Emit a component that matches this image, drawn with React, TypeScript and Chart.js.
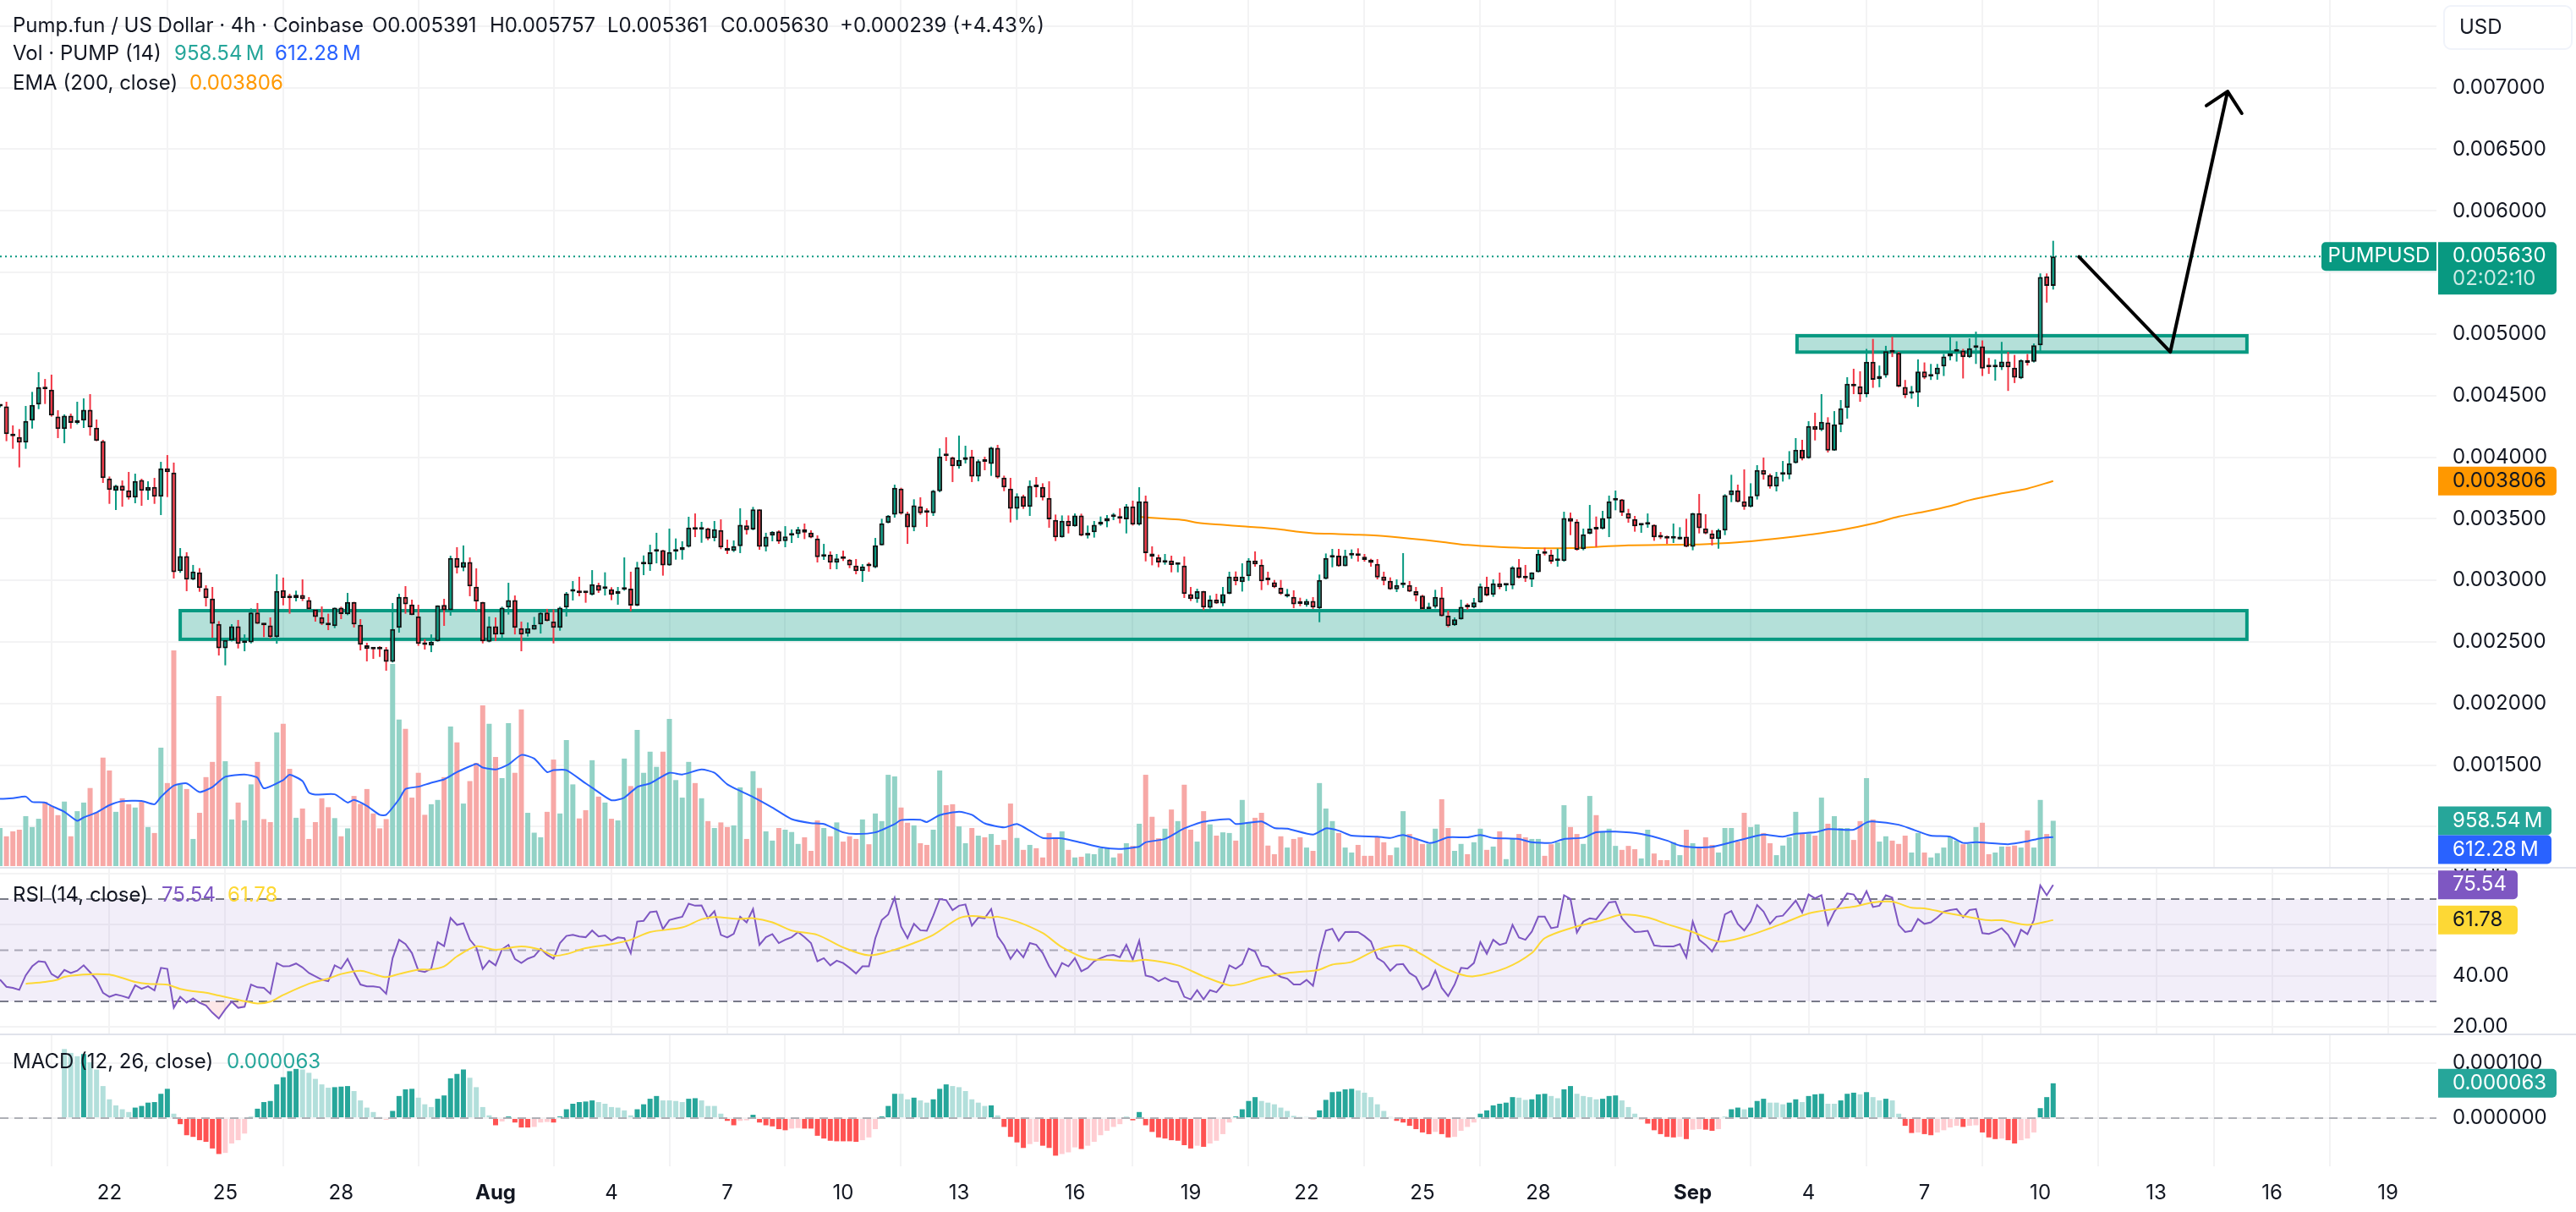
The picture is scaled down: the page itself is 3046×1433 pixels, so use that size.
import { useEffect, useRef } from "react"
import { Chart, registerables } from "chart.js"

Chart.register(...registerables)

// Prices are in millionths of a dollar, volumes in millions, one entry per 4h bar.
const opens = [
  4413,4413,4187,4164,4118,4297,4427,4569,4548,4329,
  4228,4336,4278,4297,4384,4239,4130,3827,3727,3768,
  3731,3672,3814,3727,3759,3679,3910,3875,3074,3196,
  3006,3065,2935,2852,2646,2449,2511,2626,2491,2497,
  2738,2653,2633,2539,2921,2864,2855,2880,2839,2763,
  2701,2655,2628,2777,2724,2825,2639,2472,2447,2449,
  2440,2339,2614,2866,2804,2708,2484,2470,2504,2800,
  2758,3182,3102,3148,2948,2825,2502,2626,2561,2779,
  2839,2612,2566,2600,2642,2738,2667,2614,2779,2909,
  2907,2903,2882,2962,2930,2928,2889,2923,2932,2795,
  3129,3129,3232,3244,3122,3232,3244,3273,3429,3411,
  3422,3342,3408,3264,3239,3278,3445,3413,3576,3273,
  3363,3397,3319,3363,3376,3415,3388,3340,3191,3209,
  3143,3184,3168,3120,3074,3122,3106,3285,3466,3534,
  3745,3541,3431,3601,3555,3546,3724,4015,3999,3926,
  3978,4006,3843,3967,3946,4075,3834,3745,3582,3683,
  3596,3773,3759,3669,3491,3349,3484,3438,3527,3363,
  3390,3452,3479,3514,3514,3495,3601,3452,3642,3218,
  3189,3143,3161,3127,3120,2887,2848,2914,2777,2843,
  2813,2891,3031,2985,3033,3161,3127,3006,2983,2939,
  2868,2866,2816,2800,2832,2772,3012,3184,3200,3115,
  3202,3205,3191,3168,3134,3031,2996,2928,2962,2962,
  2912,2875,2765,2784,2861,2713,2635,2683,2790,2779,
  2820,2948,2882,2976,2958,2958,3106,3026,3006,3067,
  3225,3209,3157,3157,3505,3477,3253,3379,3429,3418,
  3500,3649,3656,3546,3498,3445,3452,3450,3354,3347,
  3340,3333,3354,3273,3546,3422,3381,3335,3404,3692,
  3731,3642,3596,3683,3896,3855,3761,3857,3857,3953,
  4061,3992,4253,4221,4281,4054,4265,4400,4596,4576,
  4512,4774,4634,4664,4860,4847,4570,4516,4524,4695,
  4654,4673,4737,4818,4857,4865,4813,4887,4899,4737,
  4730,4730,4776,4727,4641,4789,4774,4909,5468,5391,
]
const highs = [
  4427,4450,4258,4228,4416,4530,4690,4635,4670,4381,
  4347,4354,4450,4477,4512,4306,4141,3843,3775,3811,
  3880,3866,3825,3804,3832,3962,4017,3956,3262,3228,
  3125,3099,2960,2946,2669,2523,2644,2678,2561,2772,
  2816,2653,2699,3049,3022,2891,2916,3008,2864,2765,
  2788,2729,2779,2786,2898,2825,2685,2493,2447,2465,
  2458,2816,2891,2953,2843,2802,2523,2561,2797,2850,
  3200,3269,3283,3186,3097,2825,2706,2699,2786,2980,
  2877,2665,2658,2703,2756,2768,2763,2786,2905,2994,
  3029,2905,3083,2980,3065,2944,2946,3186,3070,3150,
  3202,3289,3386,3248,3420,3340,3317,3516,3543,3475,
  3427,3482,3495,3331,3324,3585,3489,3596,3576,3386,
  3399,3406,3440,3413,3434,3461,3406,3365,3296,3235,
  3214,3241,3173,3173,3131,3145,3344,3500,3530,3777,
  3752,3557,3658,3674,3585,3734,4072,4162,4004,4175,
  4093,4059,3981,4004,4084,4100,3850,3832,3706,3695,
  3811,3839,3788,3804,3534,3527,3527,3543,3541,3445,
  3482,3518,3530,3546,3585,3619,3647,3756,3688,3276,
  3209,3214,3200,3145,3193,2946,2932,2914,2877,2891,
  2946,3070,3072,3138,3180,3235,3170,3070,3003,3003,
  2930,2919,2859,2848,2864,3047,3218,3255,3255,3248,
  3251,3260,3214,3175,3173,3070,3024,3008,3221,2994,
  2946,2882,2818,2923,2946,2754,2699,2843,2813,2857,
  2974,3029,3008,3063,2969,3115,3173,3125,3065,3248,
  3264,3248,3257,3557,3550,3495,3420,3612,3518,3564,
  3688,3729,3660,3580,3523,3454,3543,3454,3392,3363,
  3461,3431,3500,3548,3701,3537,3408,3418,3699,3857,
  3777,3901,3788,3935,3997,3866,3880,3969,4049,4155,
  4141,4292,4361,4512,4324,4374,4464,4649,4718,4697,
  4879,4960,4744,4904,4977,4855,4627,4578,4794,4769,
  4757,4757,4838,4977,4941,4879,4965,5019,4948,4806,
  4794,4936,4855,4830,4794,4838,4923,5492,5492,5757,
]
const lows = [
  4404,4130,4068,3917,4068,4232,4390,4432,4329,4155,
  4113,4232,4267,4237,4175,4130,3791,3621,3571,3598,
  3656,3626,3605,3653,3621,3530,3676,3015,3061,2912,
  3001,2907,2788,2534,2390,2310,2504,2447,2424,2488,
  2646,2539,2527,2486,2797,2729,2829,2832,2763,2665,
  2637,2596,2612,2685,2717,2617,2431,2342,2362,2378,
  2266,2333,2575,2729,2717,2468,2438,2417,2502,2630,
  2713,3056,3074,2871,2756,2488,2497,2507,2534,2722,
  2561,2424,2543,2600,2568,2667,2488,2591,2706,2836,
  2871,2818,2877,2898,2877,2839,2802,2916,2749,2790,
  3042,3077,3138,3038,3118,3168,3168,3267,3351,3305,
  3326,3317,3253,3214,3230,3221,3372,3406,3248,3235,
  3317,3296,3269,3303,3344,3335,3342,3145,3166,3090,
  3090,3157,3099,3049,2987,3070,3099,3283,3463,3509,
  3534,3296,3399,3532,3434,3523,3715,3969,3798,3907,
  3949,3798,3804,3894,3848,3827,3724,3470,3491,3580,
  3523,3674,3649,3427,3319,3347,3381,3436,3358,3340,
  3347,3443,3431,3489,3463,3381,3445,3445,3154,3122,
  3106,3127,3065,3065,2857,2832,2818,2758,2770,2809,
  2790,2887,2960,2909,2996,3111,2921,2962,2937,2882,
  2861,2774,2790,2786,2768,2660,3008,3106,3111,3115,
  3175,3152,3152,3111,3008,2960,2923,2905,2939,2905,
  2829,2761,2763,2772,2706,2619,2630,2681,2763,2774,
  2818,2871,2866,2928,2912,2928,3015,2987,2946,3065,
  3202,3134,3111,3152,3367,3241,3244,3374,3271,3413,
  3351,3569,3523,3468,3395,3386,3427,3321,3335,3296,
  3303,3331,3269,3244,3381,3374,3283,3257,3367,3635,
  3633,3573,3592,3656,3818,3745,3722,3802,3821,3949,
  3974,3988,4136,4212,4038,4052,4203,4313,4512,4450,
  4487,4563,4568,4646,4813,4568,4480,4475,4408,4634,
  4627,4629,4659,4786,4776,4639,4806,4757,4659,4676,
  4622,4708,4538,4602,4634,4744,4769,4862,5255,5361,
]
const closes = [
  4420,4187,4171,4118,4294,4425,4569,4551,4338,4228,
  4336,4278,4301,4384,4242,4132,3830,3734,3768,3727,
  3672,3807,3727,3759,3679,3910,3878,3067,3196,3006,
  3072,2937,2855,2648,2449,2516,2626,2484,2500,2738,
  2648,2635,2539,2914,2857,2855,2882,2848,2765,2703,
  2648,2635,2777,2726,2825,2642,2477,2443,2440,2440,
  2339,2605,2866,2806,2717,2484,2475,2502,2797,2758,
  3182,3102,3148,2951,2827,2504,2626,2559,2777,2839,
  2614,2559,2612,2639,2736,2669,2614,2777,2893,2916,
  2896,2896,2969,2916,2937,2882,2914,2930,2795,3106,
  3136,3228,3244,3122,3230,3244,3271,3429,3411,3424,
  3340,3415,3267,3239,3278,3450,3408,3576,3273,3354,
  3395,3315,3356,3376,3415,3388,3347,3189,3212,3143,
  3177,3175,3122,3074,3113,3115,3285,3463,3525,3752,
  3541,3431,3608,3546,3548,3727,4006,4008,3926,3978,
  4001,3843,3967,3962,4077,3836,3754,3582,3683,3596,
  3766,3756,3672,3495,3349,3484,3438,3527,3363,3388,
  3450,3477,3505,3521,3500,3601,3452,3642,3221,3191,
  3145,3161,3125,3129,2889,2848,2912,2779,2843,2813,
  2887,3031,2992,3031,3161,3129,2992,3001,2944,2891,
  2887,2806,2809,2832,2779,3003,3182,3202,3115,3198,
  3212,3198,3166,3141,3024,2996,2928,2962,2971,2909,
  2877,2768,2786,2866,2710,2628,2683,2784,2781,2820,
  2951,2877,2976,2944,2967,3106,3022,3017,3065,3216,
  3216,3152,3164,3505,3477,3248,3374,3420,3413,3505,
  3642,3658,3550,3500,3438,3452,3461,3349,3347,3340,
  3347,3354,3273,3546,3424,3381,3335,3408,3692,3731,
  3637,3596,3683,3896,3857,3761,3843,3864,3951,4061,
  3988,4253,4221,4287,4054,4267,4397,4596,4576,4510,
  4774,4629,4659,4860,4850,4573,4504,4524,4695,4646,
  4666,4727,4818,4843,4867,4813,4884,4899,4720,4730,
  4737,4776,4730,4646,4789,4764,4909,5463,5390,5630,
]
const volumes = [
  805,630,735,770,1057,826,1001,1358,1274,1078,
  1365,630,1162,1344,1652,1134,2296,2023,1148,1435,
  1309,1239,1358,826,700,2506,1757,4565,1729,1631,
  574,1127,1883,2205,3598,2219,987,1344,966,1729,
  2205,994,931,2828,3010,2058,1022,1218,574,931,
  1435,1246,1015,630,798,1484,1316,1631,1113,798,
  994,4280,3101,2905,1449,1974,1085,1309,1400,1883,
  2954,2618,1323,1799,2184,3402,3010,2310,1862,3024,
  1974,3318,1127,707,609,1148,2254,1113,2667,1729,
  1008,1183,2240,1470,1344,1001,966,2275,1694,2884,
  1974,2422,2100,2422,3115,1820,1449,2205,1757,1435,
  952,805,924,826,861,1666,574,2009,1652,735,
  539,805,770,721,469,609,322,966,805,630,
  924,518,630,574,987,462,1113,952,1932,1897,
  1239,917,861,483,448,770,2023,1288,1309,840,
  483,805,644,609,679,448,553,1323,595,343,
  448,378,182,700,574,735,343,182,196,266,
  252,378,378,182,266,483,427,896,1932,1043,
  588,791,1197,952,1722,770,518,1162,882,644,
  714,700,539,1400,917,1022,1127,434,252,630,
  392,574,609,392,322,1757,1218,952,700,392,
  287,448,217,217,623,504,231,392,1162,679,
  574,469,469,791,1414,805,322,469,252,504,
  791,343,413,735,147,574,679,609,574,574,
  217,462,504,1288,826,679,469,1484,1078,735,
  791,427,343,427,357,161,770,266,126,126,
  504,231,770,483,378,609,448,287,805,805,
  518,1127,826,882,700,483,231,434,609,1148,
  679,679,644,1449,896,1057,805,805,553,952,
  1862,987,518,630,539,469,644,287,700,287,
  182,273,392,609,539,462,469,826,917,252,
  287,413,413,434,392,756,392,1400,679,958.54,
]
const rsi = [
  38.5,35.7,35.3,34.5,40.2,43.7,45.7,45.4,40.7,39.2,
  42.3,41.1,42.0,44.1,41.4,38.5,33.4,31.8,32.7,32.1,
  31.3,36.3,34.9,35.9,34.3,43.1,42.7,27.5,31.8,29.5,
  31.2,29.5,28.4,25.6,23.3,26.9,29.9,27.5,27.9,36.6,
  35.5,35.3,33.0,45.0,43.7,43.8,44.8,43.3,41.1,39.8,
  38.5,37.9,44.1,42.8,46.6,41.4,36.6,35.9,35.9,35.5,
  33.0,46.9,54.1,52.4,48.9,42.0,41.5,42.8,53.2,51.6,
  62.6,59.9,60.5,54.1,51.1,42.7,45.9,44.1,50.4,52.1,
  46.6,45.0,46.7,47.6,50.6,48.2,46.7,52.8,55.6,56.0,
  55.4,55.1,57.7,55.4,55.8,53.8,55.0,54.7,48.9,61.2,
  61.5,64.9,65.2,58.2,61.8,62.5,63.1,68.2,67.4,67.5,
  62.5,65.3,56.0,55.0,56.4,63.1,60.9,66.1,52.1,55.1,
  56.3,52.8,54.1,55.1,57.1,55.1,52.8,45.7,46.9,44.1,
  45.9,45.0,43.1,40.9,43.7,43.7,54.7,61.8,64.0,70.5,
  59.3,54.7,60.3,57.8,57.6,63.5,70.0,69.6,65.7,67.4,
  67.9,59.6,62.8,62.5,66.1,55.4,51.9,46.6,50.2,47.2,
  52.8,52.1,48.9,43.7,39.8,45.0,43.7,46.9,41.8,43.1,
  45.7,46.9,47.9,48.2,47.3,52.1,46.3,53.7,40.1,39.5,
  37.9,39.2,37.9,37.6,31.8,30.8,34.4,30.8,34.4,33.6,
  36.6,44.1,42.8,44.6,50.6,49.5,44.0,43.5,41.1,39.6,
  38.9,36.6,36.6,38.4,36.1,48.2,57.7,58.4,53.7,57.1,
  57.2,57.1,55.5,53.4,46.9,45.3,42.0,44.4,44.6,41.1,
  39.5,34.7,36.3,42.0,35.3,32.1,36.6,43.1,42.8,45.0,
  53.2,48.6,54.1,52.1,52.8,59.9,55.0,54.1,57.3,63.1,
  63.1,58.6,59.1,71.5,70.0,56.9,61.2,62.5,62.1,65.3,
  68.7,69.0,62.5,59.6,57.1,57.3,57.6,51.9,51.6,51.5,
  51.5,52.4,47.2,61.2,54.1,52.1,49.5,54.1,64.0,65.3,
  60.3,57.7,61.2,67.7,65.1,60.3,63.1,63.5,66.4,69.4,
  64.8,71.8,70.3,71.5,59.9,65.1,68.3,72.2,71.8,68.1,
  73.1,66.9,67.4,71.5,70.6,59.9,57.1,57.6,62.2,60.3,
  60.9,62.8,65.1,65.7,66.1,62.9,65.7,66.1,56.7,56.4,
  57.3,58.6,56.0,51.5,58.0,56.3,61.8,75.3,71.5,75.54,
]
const macdHist = [
  null,null,null,null,null,null,null,null,null,null,
  125,118,112,116,101,88,58,34,23,16,
  11,19,22,28,29,44,53,8,-11,-31,
  -34,-40,-43,-55,-65,-63,-46,-40,-28,2,
  17,29,31,61,74,85,89,88,82,71,
  61,55,56,57,58,49,32,19,11,2,
  -2,13,40,52,53,37,25,20,35,41,
  72,80,88,73,56,20,5,-13,-6,3,
  -8,-17,-17,-16,-8,-7,-8,3,16,26,
  29,30,32,29,26,20,19,14,5,16,
  25,35,40,32,32,31,29,35,36,32,
  22,22,8,-5,-13,-5,-4,6,-8,-13,
  -15,-20,-22,-19,-18,-19,-19,-32,-37,-41,
  -42,-42,-42,-43,-40,-35,-20,3,22,44,
  44,34,37,32,28,34,53,61,58,56,
  49,34,28,22,23,5,-16,-34,-44,-54,
  -47,-43,-50,-54,-68,-65,-62,-53,-56,-50,
  -43,-31,-23,-16,-11,2,-4,11,-13,-25,
  -35,-37,-40,-41,-49,-55,-50,-52,-46,-41,
  -29,-8,3,16,31,38,31,28,25,19,
  13,4,2,2,-2,14,33,47,48,52,
  53,50,46,38,25,13,2,-5,-8,-14,
  -20,-26,-29,-25,-29,-35,-34,-23,-16,-8,
  8,14,23,26,28,38,37,33,34,43,
  44,40,36,52,58,44,40,38,34,35,
  40,41,32,20,8,-2,-10,-22,-29,-34,
  -35,-34,-38,-21,-20,-21,-23,-20,2,16,
  19,16,19,31,35,28,28,25,28,34,
  29,40,43,44,26,26,32,44,46,43,
  47,38,32,35,32,8,-14,-27,-26,-29,
  -31,-26,-22,-17,-14,-16,-14,-13,-26,-35,
  -38,-37,-40,-46,-40,-37,-26,18,38,63,
]

// smooth overlays, read at the bars where they bend
const emaBars = [177,178,181,184,186,190,193,196,199,202,204,208,210,214,219,224,228,233,238,244,248,253,258,264,267,272,277,281,286,291,295,299,303,306,311,315,319]
const ema = [3516,3511,3500,3489,3468,3450,3438,3429,3413,3392,3383,3376,3372,3363,3340,3312,3287,3271,3262,3262,3271,3285,3287,3292,3299,3317,3344,3370,3408,3461,3518,3557,3603,3651,3706,3745,3806]
const volMaBars = [
  0,2,4,5,7,8,10,12,13,15,17,19,22,24,25,27,29,31,33,35,38,40,41,44,45,47,48,49,52,54,55,57,59,60,62,63,65,67,69,71,74,75,77,79,81,83,85,86,88,91,92,95,97,99,101,104,106,109,111,113,115,117,120,123,126,128,131,
  133,136,139,140,143,144,146,149,151,153,156,158,160,162,165,168,171,174,177,178,181,184,187,191,192,196,198,200,204,206,208,210,214,216,218,222,223,225,228,230,232,236,238,241,243,246,248,251,255,259,261,263,
  266,269,272,274,277,279,282,284,288,290,291,295,297,300,303,305,307,312,315,317,319,
]
const volMa = [
  1421,1435,1470,1358,1344,1274,1148,959,1029,1134,1288,1372,1379,1309,1463,1701,1750,1568,1673,1890,1939,1869,1645,1820,1932,1799,1554,1512,1519,1344,1400,1274,1085,1085,1414,1631,1680,1764,1834,1988,2163,2086,2044,2149,2352,2275,1988,2030,2030,1750,1659,1393,1449,1673,1750,1974,1939,2044,1974,1729,1589,1463,1239,994,910,889,714,
  679,714,889,973,980,931,1078,1148,1085,903,819,889,749,595,588,497,399,364,413,504,574,798,938,994,889,945,805,791,665,798,749,644,623,595,658,490,511,609,609,658,595,574,504,490,574,602,714,728,679,539,434,399,
  406,504,609,665,623,686,714,784,770,924,945,875,784,644,623,490,504,462,525,588,612.28,
]
const rsiMaBars = [
  4,7,9,10,13,15,17,19,21,23,26,28,30,32,34,36,38,40,42,44,48,51,53,56,58,60,62,65,67,69,71,74,77,81,84,86,88,91,95,98,101,106,109,111,115,117,120,123,127,131,
  135,139,142,145,149,151,154,155,158,162,165,169,172,176,178,183,187,191,193,196,200,204,205,207,210,214,218,221,224,227,229,234,238,240,244,249,252,256,259,263,
  267,271,275,277,281,285,288,291,294,297,299,302,305,309,311,315,319,
]
const rsiMa = [
  36.9,37.6,38.5,39.6,40.5,40.7,40.5,39.2,37.6,36.9,36.5,34.9,34.0,33.4,32.3,31.2,30.1,29.2,29.9,32.5,36.9,38.9,40.7,42.0,40.7,39.5,40.7,42.4,42.5,43.7,47.6,51.5,50.2,51.5,50.2,47.9,48.5,50.8,52.4,54.1,57.1,58.9,62.1,63.0,62.2,62.5,60.9,57.7,56.0,51.1,
  48.0,50.2,52.8,56.0,62.5,63.4,62.8,63.1,61.2,56.7,51.2,46.6,46.3,45.7,46.3,44.1,39.8,36.3,36.9,39.2,41.1,42.0,42.4,44.4,45.4,50.2,51.8,48.2,43.7,40.5,39.8,43.1,48.9,54.7,58.6,61.8,63.9,62.8,60.2,57.1,
  53.4,55.2,58.6,60.5,64.4,66.1,67.0,68.7,69.0,66.6,66.4,64.8,63.4,61.7,61.7,59.9,61.78,
]

// tick labels along the shared time axis (bar index -> label)
const timeTickBars = [17,35,53,77,95,113,131,149,167,185,203,221,239,263,281,299,317,335,353,371]
const timeTickLabels = ["22","25","28","Aug","4","7","10","13","16","19","22","25","28","Sep","4","7","10","13","16","19"]
const monthTicks = ["Aug","Sep"]
const priceTicks = [1000,1500,2000,2500,3000,3500,4000,4500,5000,5500,6000,6500,7000,7500]
const rsiTicks = [20,40,60,80]
const macdTicks = [0,100]

// drawn levels and zones
const zoneStartBars = [28,279.2]
const zoneEndBars = [349.1,349.1]
const zoneTops = [2754,4986]
const zoneBottoms = [2521,4853]
const arrowBars = [323,337.2,346.1,342.8,346.1,348.3]
const arrowPrices = [5627,4855,6970,6854,6970,6792]
const lastPrice = 5630
const lastPriceEndBar = 360.7
const rsiBandTop = 70
const rsiBandMid = 50
const rsiBandBottom = 30

const FONT = "Inter"
const TEXT = "#131722"
const GRID = "#f3f3f4"
const UP = "#089981"
const DOWN = "#f23645"
const XMIN = 0
const XMAX = 378.55
const AXIS_W = 165

const up = (i: number) => closes[i] >= opens[i]

function pts(xs: number[], ys: (number | null)[]) {
  return xs.map((x, i) => ({ x, y: ys[i] }))
}
const barIdx = opens.map((_, i) => i)

function levelLine(y: number, color: string, width: number, dash: number[], order: number, extra = {}) {
  return {
    type: "line",
    data: [{ x: XMIN, y }, { x: XMAX, y }],
    borderColor: color,
    borderWidth: width,
    borderDash: dash,
    pointRadius: 0,
    order,
    ...extra,
  }
}

function text(ctx: CanvasRenderingContext2D, s: string, x: number, y: number, color: string, align: CanvasTextAlign = "left") {
  ctx.font = `24px ${FONT}`
  ctx.textAlign = align
  ctx.textBaseline = "middle"
  ctx.fillStyle = color
  ctx.fillText(s, x, y)
}

function tag(ctx: CanvasRenderingContext2D, x: number, y: number, w: number, h: number, fill: string) {
  ctx.fillStyle = fill
  ctx.beginPath()
  ctx.roundRect(x, y, w, h, [0, 5, 5, 0])
  ctx.fill()
}

// keep the plot area from being inset for half a tick label
function noPadding(s: any) {
  s.paddingTop = 0
  s.paddingBottom = 0
  s.paddingLeft = 0
  s.paddingRight = 0
}

function xAxis(showLabels: boolean, height: number) {
  return {
    type: "linear",
    min: XMIN,
    max: XMAX,
    offset: false,
    bounds: "data",
    border: { display: false },
    grid: { color: GRID, lineWidth: 2, drawTicks: false },
    ticks: {
      display: showLabels,
      autoSkip: false,
      maxRotation: 0,
      padding: 17,
      color: TEXT,
      font: (c: any) => ({
        family: FONT,
        size: 24,
        weight: monthTicks.includes(timeTickLabels[timeTickBars.indexOf(c.tick?.value)]) ? "bold" : "normal",
      }),
      callback: (v: number) => timeTickLabels[timeTickBars.indexOf(v)],
    },
    afterBuildTicks: (s: any) => {
      s.ticks = timeTickBars.map((value) => ({ value }))
    },
    afterFit: (s: any) => {
      s.height = height
      noPadding(s)
    },
  }
}

function yAxis(min: number, max: number, ticks: number[], label: (v: number) => string) {
  return {
    position: "right",
    min,
    max,
    border: { display: false },
    grid: { color: GRID, lineWidth: 2, drawTicks: false },
    ticks: {
      autoSkip: false,
      padding: 19,
      color: TEXT,
      font: { family: FONT, size: 24 },
      callback: (v: number) => label(v),
    },
    afterBuildTicks: (s: any) => {
      s.ticks = ticks.map((value) => ({ value }))
    },
    afterFit: (s: any) => {
      s.width = AXIS_W
      noPadding(s)
    },
  }
}

const baseOptions = {
  responsive: false,
  animation: false,
  events: [],
  layout: { padding: 0 },
  plugins: { legend: { display: false }, tooltip: { enabled: false } },
}

const zonesPlugin = {
  id: "zones",
  beforeDatasetsDraw(chart: any) {
    const { ctx, scales } = chart
    ctx.save()
    zoneTops.forEach((top, i) => {
      const x0 = scales.x.getPixelForValue(zoneStartBars[i])
      const x1 = scales.x.getPixelForValue(zoneEndBars[i])
      const y0 = scales.y.getPixelForValue(top)
      const y1 = scales.y.getPixelForValue(zoneBottoms[i])
      ctx.fillStyle = "rgba(8,153,129,0.3)"
      ctx.fillRect(x0, y0, x1 - x0, y1 - y0)
      ctx.strokeStyle = UP
      ctx.lineWidth = 4
      ctx.strokeRect(x0, y0, x1 - x0, y1 - y0)
    })
    ctx.restore()
  },
}

const priceOverlay = {
  id: "priceOverlay",
  afterDraw(chart: any) {
    const { ctx, scales } = chart
    ctx.save()
    text(ctx, "Pump.fun / US Dollar · 4h · Coinbase", 15, 31, TEXT)
    text(ctx, "O0.005391", 440, 31, TEXT)
    text(ctx, "H0.005757", 579, 31, TEXT)
    text(ctx, "L0.005361", 718, 31, TEXT)
    text(ctx, "C0.005630", 852, 31, TEXT)
    text(ctx, "+0.000239 (+4.43%)", 993, 31, TEXT)
    text(ctx, "Vol · PUMP (14)", 15, 64, TEXT)
    text(ctx, "958.54\u202fM", 206, 64, "#26a69a")
    text(ctx, "612.28\u202fM", 325, 64, "#2962ff")
    text(ctx, "EMA (200, close)", 15, 99, TEXT)
    text(ctx, "0.003806", 224, 99, "#ff9800")

    // currency box
    ctx.fillStyle = "#fff"
    ctx.strokeStyle = "#f0f3fa"
    ctx.lineWidth = 2
    ctx.beginPath()
    ctx.roundRect(2890, 7, 151, 51, 8)
    ctx.fill()
    ctx.stroke()
    text(ctx, "USD", 2908, 33, TEXT)

    // last price tags
    const py = scales.y.getPixelForValue(lastPrice)
    ctx.fillStyle = UP
    ctx.beginPath()
    ctx.roundRect(2745, py - 17, 136, 34, [5, 0, 0, 5])
    ctx.fill()
    text(ctx, "PUMPUSD", 2813, py, "#fff", "center")
    tag(ctx, 2883, py - 17, 140, 62, UP)
    text(ctx, "0.005630", 2900, py, "#fff")
    text(ctx, "02:02:10", 2900, py + 27, "rgba(255,255,255,0.8)")

    const ey = scales.y.getPixelForValue(ema[ema.length - 1])
    tag(ctx, 2883, ey - 17, 140, 34, "#ff9800")
    text(ctx, "0.003806", 2900, ey, TEXT)

    const vy = scales.yVol.getPixelForValue(volumes[volumes.length - 1])
    tag(ctx, 2883, vy - 17, 134, 34, "#26a69a")
    text(ctx, "958.54\u202fM", 2900, vy, "#fff")
    tag(ctx, 2883, vy + 17, 134, 34, "#2962ff")
    text(ctx, "612.28\u202fM", 2900, vy + 34, "#fff")
    ctx.restore()
  },
}

const rsiOverlay = {
  id: "rsiOverlay",
  afterDraw(chart: any) {
    const { ctx, scales } = chart
    ctx.save()
    text(ctx, "RSI (14, close)", 15, 32, TEXT)
    text(ctx, "75.54", 191, 32, "#7e57c2")
    text(ctx, "61.78", 269, 32, "#fdd835")
    const a = scales.y.getPixelForValue(rsi[rsi.length - 1])
    tag(ctx, 2883, a - 17, 94, 34, "#7e57c2")
    text(ctx, "75.54", 2900, a, "#fff")
    const b = scales.y.getPixelForValue(rsiMa[rsiMa.length - 1])
    tag(ctx, 2883, b - 17, 94, 34, "#fdd835")
    text(ctx, "61.78", 2900, b, TEXT)
    ctx.restore()
  },
}

const macdOverlay = {
  id: "macdOverlay",
  afterDraw(chart: any) {
    const { ctx, scales } = chart
    ctx.save()
    text(ctx, "MACD (12, 26, close)", 15, 32, TEXT)
    text(ctx, "0.000063", 268, 32, "#26a69a")
    const y = scales.y.getPixelForValue(macdHist[macdHist.length - 1] as number)
    tag(ctx, 2883, y - 17, 140, 34, "#26a69a")
    text(ctx, "0.000063", 2900, y, "#fff")
    ctx.restore()
  },
}

function macdColor(i: number) {
  const h = macdHist[i] as number
  const prev = macdHist[i - 1]
  const rising = prev != null && prev < h
  if (h >= 0) return rising ? "#26a69a" : "#b2dfdb"
  return rising ? "#ffcdd2" : "#ff5252"
}

export default function App() {
  const priceRef = useRef<HTMLCanvasElement>(null)
  const rsiRef = useRef<HTMLCanvasElement>(null)
  const macdRef = useRef<HTMLCanvasElement>(null)

  useEffect(() => {
    document.body.style.margin = "0"
    document.body.style.background = "#fff"
    if (!priceRef.current || !rsiRef.current || !macdRef.current) return

    const priceChart = new Chart(priceRef.current, {
      type: "bar",
      data: {
        datasets: [
          {
            type: "line",
            data: pts(arrowBars, arrowPrices),
            borderColor: "#000",
            borderWidth: 4,
            borderCapStyle: "round",
            borderJoinStyle: "round",
            pointRadius: 0,
            order: 0,
          },
          {
            label: "bodies",
            data: barIdx.map((x) => ({ x, y: [opens[x], closes[x]] })),
            backgroundColor: barIdx.map((i) => (up(i) ? UP : DOWN)),
            borderColor: "#111",
            borderWidth: 2,
            borderSkipped: false,
            barThickness: 6,
            minBarLength: 3,
            inflateAmount: 0,
            grouped: false,
            order: 1,
          },
          {
            label: "wicks",
            data: barIdx.map((x) => ({ x, y: [lows[x], highs[x]] })),
            backgroundColor: barIdx.map((i) => (up(i) ? UP : DOWN)),
            borderWidth: 0,
            barThickness: 2,
            inflateAmount: 0,
            grouped: false,
            order: 2,
          },
          {
            type: "line",
            data: pts(emaBars, ema),
            borderColor: "#ff9800",
            borderWidth: 2,
            pointRadius: 0,
            tension: 0.3,
            order: 3,
          },
          levelLine(lastPrice, UP, 2, [2, 4], 4, { data: [{ x: XMIN, y: lastPrice }, { x: lastPriceEndBar, y: lastPrice }] }),
          {
            type: "line",
            yAxisID: "yVol",
            data: pts(volMaBars, volMa),
            borderColor: "#2962ff",
            borderWidth: 2,
            pointRadius: 0,
            tension: 0.2,
            order: 5,
          },
          {
            label: "volume",
            yAxisID: "yVol",
            data: barIdx.map((x) => ({ x, y: volumes[x] })),
            backgroundColor: barIdx.map((i) => (up(i) ? "#92d2c6" : "#f7a8a6")),
            borderWidth: 0,
            barThickness: 6,
            inflateAmount: 0,
            grouped: false,
            order: 6,
          },
        ],
      } as any,
      options: {
        ...baseOptions,
        scales: {
          x: xAxis(false, 0),
          y: yAxis(673, 7712, priceTicks, (v) => (v / 1e6).toFixed(6)),
          yVol: { display: false, position: "left", min: -18, max: 18330 },
        },
      } as any,
      plugins: [zonesPlugin, priceOverlay],
    })

    const rsiChart = new Chart(rsiRef.current, {
      type: "line",
      data: {
        datasets: [
          {
            data: pts(barIdx, rsi),
            borderColor: "#7e57c2",
            borderWidth: 2,
            pointRadius: 0,
            fill: { target: { value: rsiBandBottom }, above: "transparent", below: "rgba(242,54,69,0.12)" },
            order: 1,
          },
          {
            data: pts(rsiMaBars, rsiMa),
            borderColor: "#fdd835",
            borderWidth: 2,
            pointRadius: 0,
            tension: 0.3,
            order: 0,
          },
          levelLine(rsiBandTop, "#787b86", 2, [10, 7], 2, {
            fill: { target: { value: rsiBandBottom } },
            backgroundColor: "rgba(126,87,194,0.1)",
          }),
          levelLine(rsiBandMid, "#aeb0b6", 2, [10, 7], 3),
          levelLine(rsiBandBottom, "#787b86", 2, [10, 7], 4),
        ],
      } as any,
      options: {
        ...baseOptions,
        scales: {
          x: xAxis(false, 0),
          y: yAxis(17.44, 81.9, rsiTicks, (v) => v.toFixed(2)),
        },
      } as any,
      plugins: [rsiOverlay],
    })

    const macdChart = new Chart(macdRef.current, {
      type: "bar",
      data: {
        datasets: [
          {
            data: barIdx.map((x) => ({ x, y: macdHist[x] })),
            backgroundColor: barIdx.map((i) => (macdHist[i] == null ? "transparent" : macdColor(i))),
            borderWidth: 0,
            barThickness: 6,
            inflateAmount: 0,
            grouped: false,
            order: 0,
          },
          levelLine(0, "#aeb0b6", 2, [10, 7], 1),
        ],
      } as any,
      options: {
        ...baseOptions,
        scales: {
          x: xAxis(true, 54),
          y: yAxis(-87.3, 150, macdTicks, (v) => (v / 1e6).toFixed(6)),
        },
      } as any,
      plugins: [macdOverlay],
    })

    return () => {
      priceChart.destroy()
      rsiChart.destroy()
      macdChart.destroy()
    }
  }, [])

  const abs = (top: number) => ({ position: "absolute" as const, left: 0, top, display: "block" })
  const sep = (top: number) => ({ position: "absolute" as const, left: 0, top, width: 3046, height: 2, background: "#e0e3eb" })

  return (
    <div style={{ position: "relative", width: 3046, height: 1433, overflow: "hidden", background: "#fff" }}>
      <canvas ref={priceRef} width={3046} height={1025} style={abs(0)} />
      <div style={sep(1025)} />
      <canvas ref={rsiRef} width={3046} height={195} style={abs(1027)} />
      <div style={sep(1222)} />
      <canvas ref={macdRef} width={3046} height={209} style={abs(1224)} />
    </div>
  )
}
